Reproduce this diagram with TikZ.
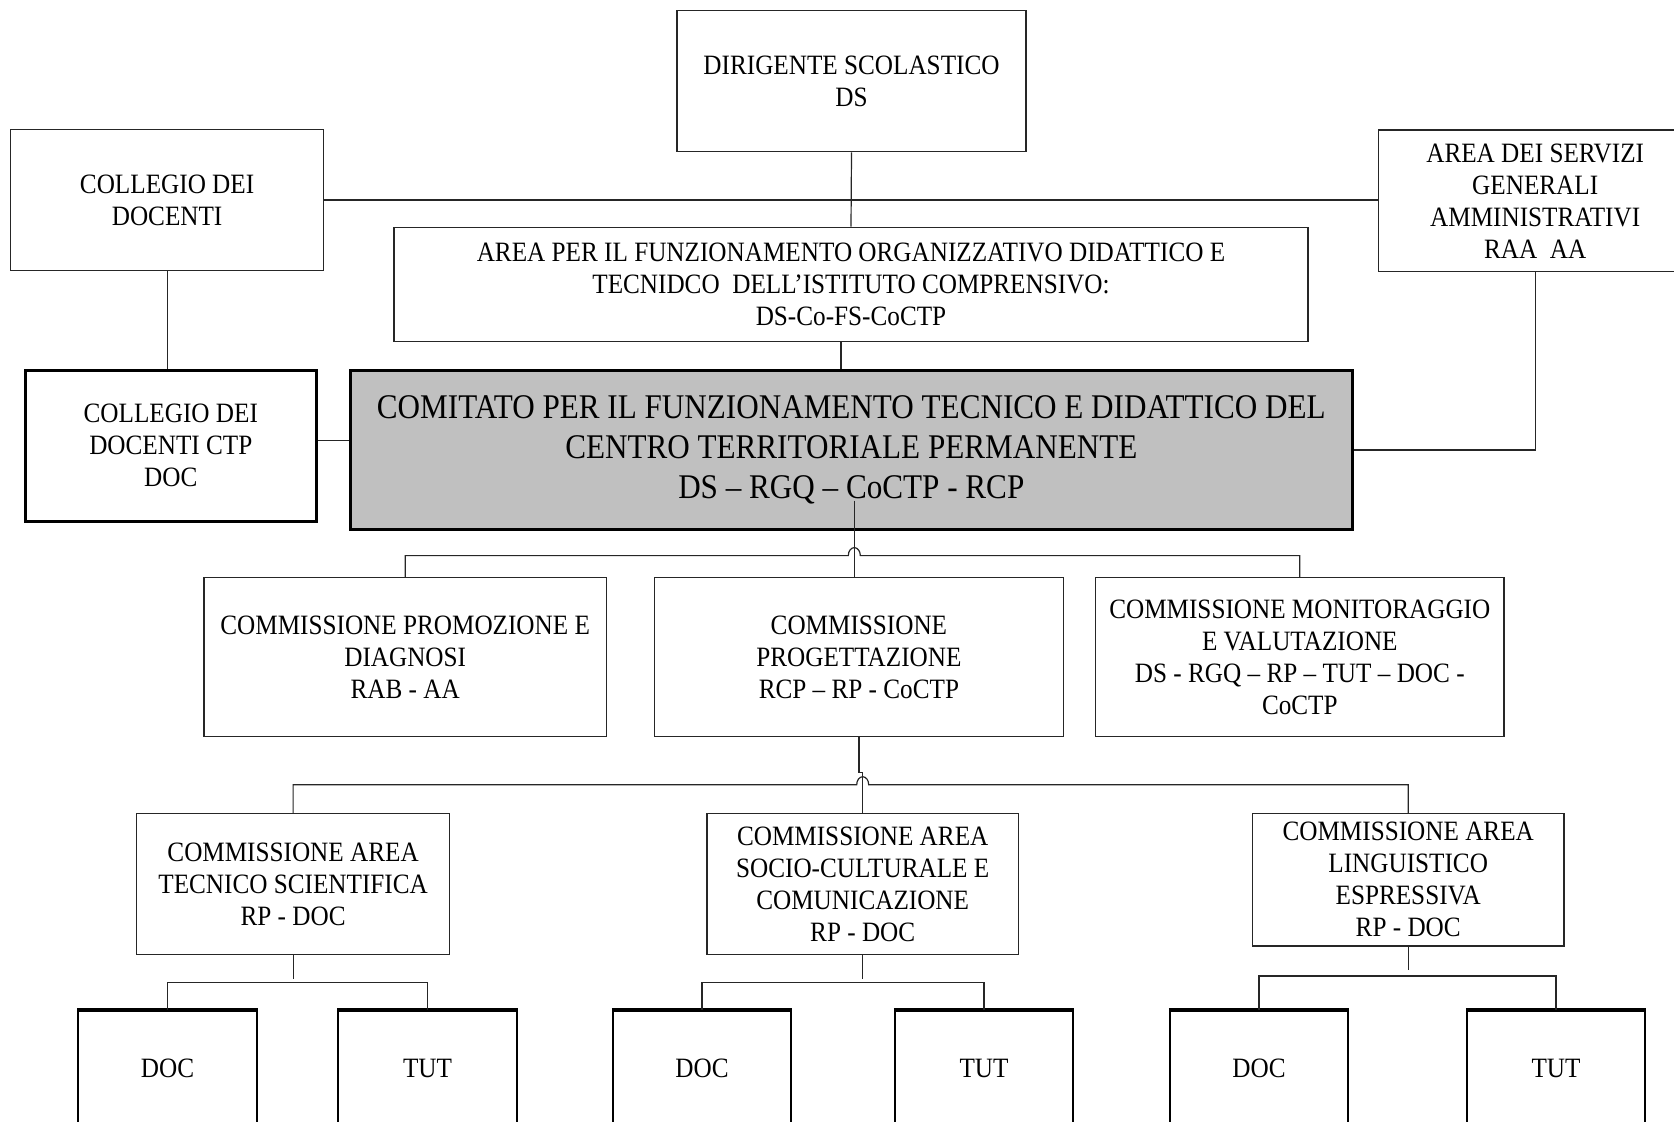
\documentclass[tikz,border=0pt]{standalone}
\usepackage{fontspec}
\setmainfont{Liberation Serif}[FakeStretch=0.9]
\definecolor{comfill}{HTML}{C0C0C0}
\begin{document}
\begin{tikzpicture}[x=0.5pt,y=-0.5pt,
  box/.style={draw=black!85, line width=0.75pt, fill=white, align=center,
    inner sep=0pt, font=\fontsize{14}{16}\selectfont},
  thickbox/.style={box, draw=black, line width=1.5pt},
  leaf/.style={box, draw=black, line width=1pt,
    minimum width=89.2pt, minimum height=57pt},
  link/.style={draw=black!85, line width=0.6pt},
  hop/.style={start angle=180, end angle=0, x radius=3pt, y radius=4pt}]

\useasboundingbox[fill=white] (0,0) rectangle (1674,1121);

% top level
\node[box, minimum width=174.5pt, minimum height=70.5pt] (ds) at (851.5,81.2)
  {DIRIGENTE SCOLASTICO\\DS};
\node[box, minimum width=156.4pt, minimum height=70.5pt] (col) at (167.1,200)
  {COLLEGIO DEI\\DOCENTI};
\node[box, minimum width=156.9pt, minimum height=70.8pt] (srv) at (1535.2,200.9)
  {AREA DEI SERVIZI\\GENERALI\\AMMINISTRATIVI\\RAA\ \ AA};
\node[box, minimum width=457pt, minimum height=57.1pt] (area) at (851,284.5)
  {AREA PER IL FUNZIONAMENTO ORGANIZZATIVO DIDATTICO E\\
   TECNIDCO\ \ DELL’ISTITUTO COMPRENSIVO:\\DS-Co-FS-CoCTP};

% committee
\node[thickbox, fill=comfill, minimum width=501.3pt, minimum height=79.5pt,
  font=\fontsize{17.3}{20}\selectfont] (com) at (851.3,450)
  {COMITATO PER IL FUNZIONAMENTO TECNICO E DIDATTICO DEL\\
   CENTRO TERRITORIALE PERMANENTE\\DS – RGQ – CoCTP - RCP};
\node[thickbox, minimum width=145.2pt, minimum height=75.25pt] (ctp) at (170.8,445.8)
  {COLLEGIO DEI\\DOCENTI CTP\\DOC};

% commissions
\node[box, minimum width=201.2pt, minimum height=79.5pt] (pro) at (405.2,657.1)
  {COMMISSIONE PROMOZIONE E\\DIAGNOSI\\RAB - AA};
\node[box, minimum width=204.45pt, minimum height=79.5pt] (prg) at (858.9,657.1)
  {COMMISSIONE\\PROGETTAZIONE\\RCP – RP - CoCTP};
\node[box, minimum width=204.4pt, minimum height=79.5pt] (mon) at (1299.8,657.1)
  {COMMISSIONE MONITORAGGIO\\E VALUTAZIONE\\DS - RGQ – RP – TUT – DOC -\\CoCTP};

% area commissions
\node[box, minimum width=156.4pt, minimum height=70.5pt] (tec) at (293.1,884)
  {COMMISSIONE AREA\\TECNICO SCIENTIFICA\\RP - DOC};
\node[box, minimum width=155.85pt, minimum height=70.5pt] (soc) at (862.7,884)
  {COMMISSIONE AREA\\SOCIO-CULTURALE E\\COMUNICAZIONE\\RP - DOC};
\node[box, minimum width=155.85pt, minimum height=66.25pt] (lin) at (1408.2,879.8)
  {COMMISSIONE AREA\\LINGUISTICO\\ESPRESSIVA\\RP - DOC};

% teachers and tutors
\node[leaf] (d1) at (167.5,1068) {DOC};
\node[leaf] (t1) at (427.5,1068) {TUT};
\node[leaf] (d2) at (702,1068) {DOC};
\node[leaf] (t2) at (984,1068) {TUT};
\node[leaf] (d3) at (1259,1068) {DOC};
\node[leaf] (t3) at (1556,1068) {TUT};
\foreach \n in {d1,t1,d2,t2,d3,t3}
  \draw[line width=1.6pt] (\n.north west) -- (\n.north east);

% upper connectors
\draw[link] (ds.south) -- (area.north);
\draw[link] (col.east) -- (col.east -| srv.west);
\draw[link] ([xshift=-5pt]area.south) -- ([xshift=-5pt]area.south |- com.north);
\draw[link] (col.south) -- (col.south |- ctp.north);
\draw[link] ([yshift=2.5pt]ctp.east) -- ([yshift=2.5pt]ctp.east -| com.west);
\draw[link] (srv.south) |- (com.east);

% committee to commissions
\coordinate (cstart) at (854.3,500.7);
\coordinate (j1) at (854.3,555.6);
\draw[link] (cstart) -- (cstart |- prg.north);
\draw[link] (pro.north) |- ([xshift=-3pt]j1) arc[hop] -| (mon.north);

% design commission to area commissions
\coordinate (j2) at (862.7,784.7);
\draw[link] (prg.south) -- ++(0,35.4) -| (soc.north);
\draw[link] (tec.north) |- ([xshift=-3pt]j2) arc[hop] -| (lin.north);

% area commissions to teachers and tutors
\draw[link] (tec.south) -- ++(0,23.6);
\draw[link] (d1.north) -- ++(0,-27.7) -| (t1.north);
\draw[link] (soc.south) -- ++(0,23.6);
\draw[link] (d2.north) -- ++(0,-27.7) -| (t2.north);
\draw[link] (lin.south) -- ++(0,23);
\draw[link] (d3.north) -- ++(0,-34) -| (t3.north);
\end{tikzpicture}
\end{document}
